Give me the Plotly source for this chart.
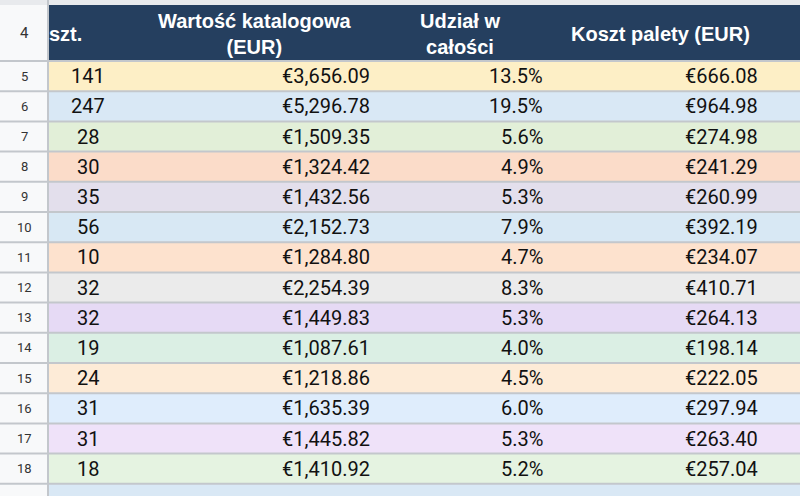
import plotly.graph_objects as go

row_nums = [5, 6, 7, 8, 9, 10, 11, 12, 13, 14, 15, 16, 17, 18, 19]
qty = ["141", "247", "28", "30", "35", "56", "10", "32", "32", "19", "24", "31", "31", "18", "734"]
value = ["€3,656.09", "€5,296.78", "€1,509.35", "€1,324.42", "€1,432.56", "€2,152.73", "€1,284.80",
         "€2,254.39", "€1,449.83", "€1,087.61", "€1,218.86", "€1,635.39", "€1,445.82", "€1,410.92", "€27,159.59"]
share = ["13.5%", "19.5%", "5.6%", "4.9%", "5.3%", "7.9%", "4.7%", "8.3%", "5.3%", "4.0%", "4.5%",
         "6.0%", "5.3%", "5.2%", "100.0%"]
pallet = ["€666.08", "€964.98", "€274.98", "€241.29", "€260.99", "€392.19", "€234.07", "€410.71",
          "€264.13", "€198.14", "€222.05", "€297.94", "€263.40", "€257.04", "€4,948.00"]
row_colors = ["#fdefc6", "#d9e8f5", "#e2efd8", "#fbdcc9", "#e3dfec", "#d8e8f4", "#fde2ce", "#ebebeb",
              "#e6daf5", "#dbefe4", "#fdebd7", "#dfedfc", "#efe2f9", "#e5f3e1", "#d9e8f5"]
headers = ["szt.", "Wartość katalogowa<br>(EUR)", "Udział w<br>całości", "Koszt palety (EUR)"]

H0, RH, HEAD_TOP = 61, 30.2, 5
fig = go.Figure()
shapes, ann = [], []
font = dict(family="Roboto", size=20, color="#111")
shapes.append(dict(type="rect", x0=48, x1=800, y0=HEAD_TOP, y1=H0, fillcolor="#253f5f", line_width=0, layer="below"))
shapes.append(dict(type="rect", x0=0, x1=48, y0=HEAD_TOP, y1=H0, fillcolor="#f8f9fa", line_width=0, layer="below"))
shapes.append(dict(type="rect", x0=0, x1=800, y0=0, y1=HEAD_TOP, fillcolor="#e8eaed", line_width=0, layer="below"))
ann.append(dict(x=24, y=(HEAD_TOP + H0) / 2, text="4", showarrow=False, font=dict(family="Roboto", size=15, color="#333")))
hx = [(47, "left"), (255, "center"), (460, "center"), (660, "center")]
for (x, al), t in zip(hx, headers):
    ann.append(dict(x=x, y=(HEAD_TOP + H0) / 2 + 1, text="<b>" + t + "</b>", showarrow=False, xanchor=al,
                    align="center", font=dict(family="Liberation Sans", size=20, color="white")))
for i, r in enumerate(row_nums):
    top = H0 + i * RH
    mid = top + RH / 2
    shapes.append(dict(type="rect", x0=48, x1=800, y0=top, y1=top + RH, fillcolor=row_colors[i], line_width=0, layer="below"))
    shapes.append(dict(type="rect", x0=0, x1=48, y0=top, y1=top + RH, fillcolor="#f8f9fa", line_width=0, layer="below"))
    shapes.append(dict(type="line", x0=0, x1=800, y0=top, y1=top, line=dict(color="#c3c7cc", width=2)))
    ann.append(dict(x=24, y=mid, text=str(r), showarrow=False, font=dict(family="Roboto", size=13, color="#333")))
    ann.append(dict(x=88, y=mid, text=qty[i], showarrow=False, font=font))
    ann.append(dict(x=372, y=mid, text=value[i], showarrow=False, xanchor="right", font=font))
    ann.append(dict(x=545, y=mid, text=share[i], showarrow=False, xanchor="right", font=font))
    ann.append(dict(x=760, y=mid, text=pallet[i], showarrow=False, xanchor="right", font=font))
shapes.append(dict(type="line", x0=48, x1=48, y0=0, y1=496, line=dict(color="#c3c7cc", width=2)))

fig.update_layout(width=800, height=496, margin=dict(l=0, r=0, t=0, b=0),
                  plot_bgcolor="white", paper_bgcolor="white", shapes=shapes, annotations=ann,
                  xaxis=dict(range=[0, 800], visible=False, fixedrange=True),
                  yaxis=dict(range=[496, 0], visible=False, fixedrange=True), showlegend=False)
for a in fig.layout.annotations:
    a.update(xref="x", yref="y", yanchor="middle")
fig.write_html("out.html", config={"displayModeBar": False},
               post_script="document.body.style.margin='0';document.body.style.overflow='hidden';")
